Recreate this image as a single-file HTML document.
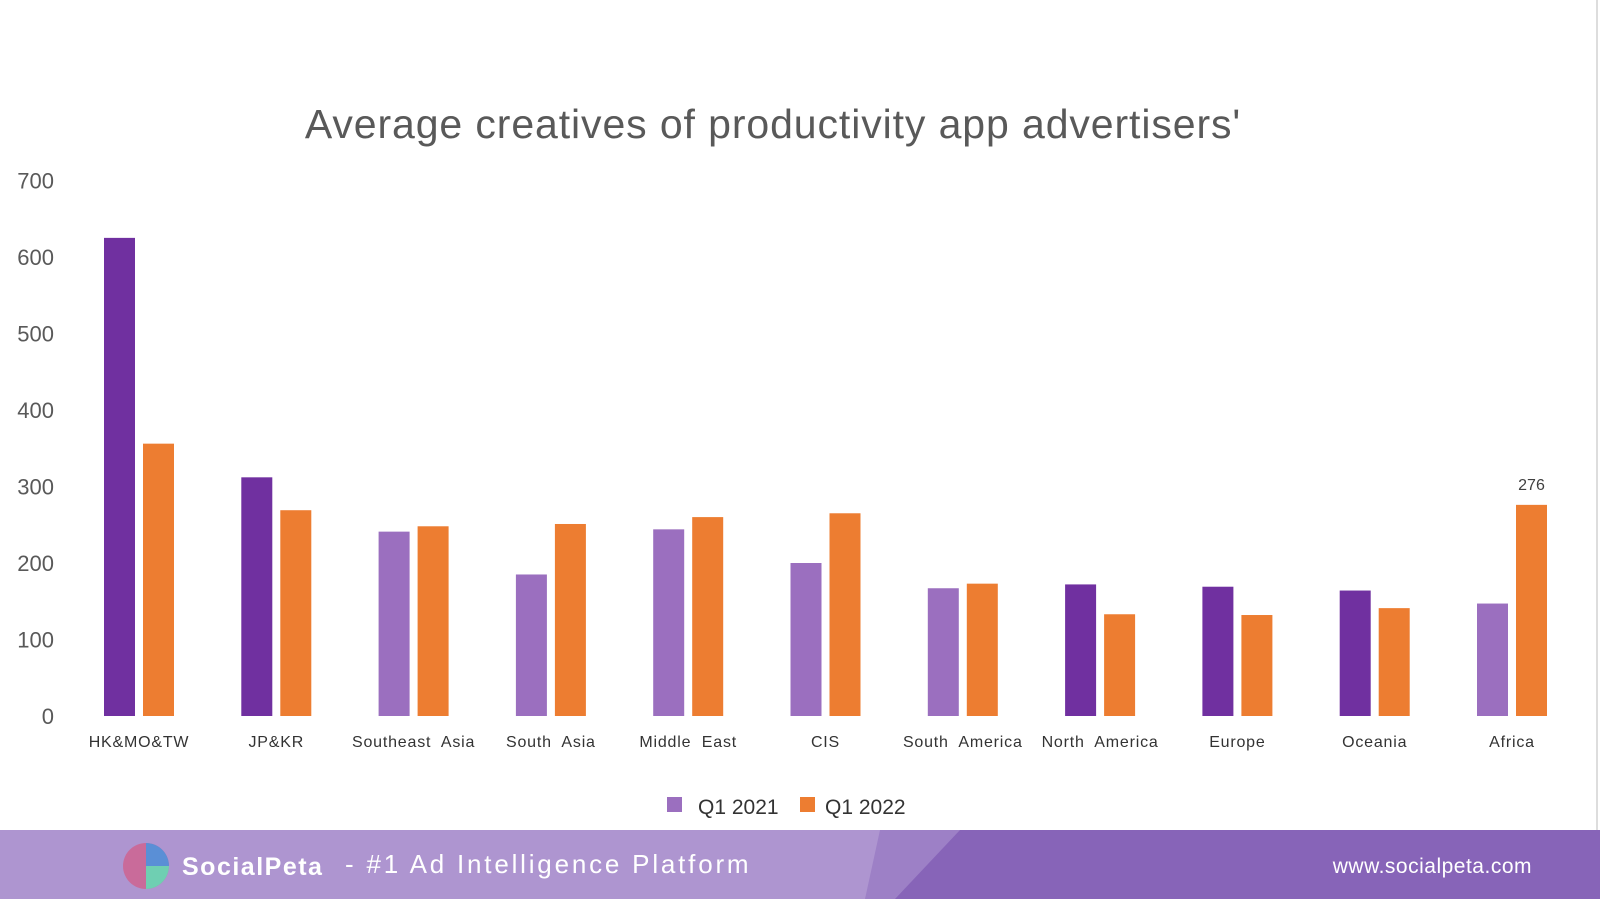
<!DOCTYPE html>
<html><head><meta charset="utf-8"><style>
body{margin:0;width:1600px;height:899px;overflow:hidden;background:#fff;font-family:"Liberation Sans",sans-serif;position:relative}
</style></head><body>
<svg id="chart" width="1600" height="899" style="position:absolute;left:0;top:0">
<line x1="1597" y1="0" x2="1597" y2="830" stroke="#ddd" stroke-width="2"/>
<text x="773" y="138" text-anchor="middle" font-size="41" letter-spacing="0.9" fill="#595959" font-family="Liberation Sans, sans-serif">Average creatives of productivity app advertisers'</text>
<g id="yticks"></g><g id="bars"></g><g id="xlabels"></g>
<g>
<rect x="667" y="797" width="15" height="15" fill="#9B6FBF"/>
<text x="698" y="814" font-size="21" fill="#333">Q1  2021</text>
<rect x="800" y="797" width="15" height="15" fill="#ED7D31"/>
<text x="825" y="814" font-size="21" fill="#333">Q1  2022</text>
</g>
<g>
<rect x="0" y="830" width="1600" height="69" fill="#AE95D0"/>
<polygon points="880,830 1600,830 1600,899 865,899" fill="#9D80C6"/>
<polygon points="960,830 1600,830 1600,899 895,899" fill="#8764B8"/>
<circle cx="146" cy="866" r="23" fill="#C96B9A"/>
<path d="M146,843 A23,23 0 0 1 169,866 L146,866Z" fill="#5A8FD6"/>
<path d="M146,866 L169,866 A23,23 0 0 1 146,889Z" fill="#6FCFB2"/>
<text x="182" y="875" font-size="25" font-weight="bold" fill="#fff" letter-spacing="1.5">SocialPeta</text>
<text x="345" y="873" font-size="26" fill="#fff" letter-spacing="2.8">- #1 Ad Intelligence Platform</text>
<text x="1532" y="873" font-size="21" fill="#fff" text-anchor="end" letter-spacing="0.5">www.socialpeta.com</text>
</g>
</svg>
<script>
const categories=["HK&MO&TW","JP&KR","Southeast  Asia","South  Asia","Middle  East","CIS","South  America","North  America","Europe","Oceania","Africa"];
const q1_2021=[625,312,241,185,244,200,167,172,169,164,147];
const q1_2022=[356,269,248,251,260,265,173,133,132,141,276];
const darkCats=[1,1,0,0,0,0,0,1,1,1,0];
const yTicks=[0,100,200,300,400,500,600,700];
const NS="http://www.w3.org/2000/svg";
const y0=716,pxPer=76.5/100;
function yScale(v){return y0-v*pxPer;}
function xCenter(i){return 139+i*137.3;}
const yt=document.getElementById('yticks');
yTicks.forEach(t=>{const e=document.createElementNS(NS,'text');


e.setAttribute('x',54);e.setAttribute('y',yScale(t)+8);e.setAttribute('text-anchor','end');e.setAttribute('font-size','22');e.setAttribute('fill','#595959');e.textContent=t;yt.appendChild(e);});
const bg=document.getElementById('bars'),xl=document.getElementById('xlabels');
categories.forEach((c,i)=>{const cx=xCenter(i);
const a=document.createElementNS(NS,'rect');


a.setAttribute('x',cx-35);a.setAttribute('width',31);a.setAttribute('y',yScale(q1_2021[i]));a.setAttribute('height',y0-yScale(q1_2021[i]));a.setAttribute('fill',darkCats[i]?'#7030A0':'#9B6FBF');bg.appendChild(a);
const b=document.createElementNS(NS,'rect');


b.setAttribute('x',cx+4);b.setAttribute('width',31);b.setAttribute('y',yScale(q1_2022[i]));b.setAttribute('height',y0-yScale(q1_2022[i]));b.setAttribute('fill','#ED7D31');bg.appendChild(b);
const t=document.createElementNS(NS,'text');


t.setAttribute('x',cx);t.setAttribute('y',747);t.setAttribute('text-anchor','middle');t.setAttribute('font-size','16');t.setAttribute('fill','#333');t.setAttribute('letter-spacing','0.8');t.setAttribute('xml:space','preserve');t.style.whiteSpace='pre';t.textContent=c;xl.appendChild(t);
if(i===categories.length-1){const l=document.createElementNS(NS,'text');


l.setAttribute('x',cx+19.5);l.setAttribute('y',yScale(q1_2022[i])-15);l.setAttribute('text-anchor','middle');l.setAttribute('font-size','16');l.setAttribute('fill','#404040');l.textContent=q1_2022[i];bg.appendChild(l);}
});
</script>
</body></html>
